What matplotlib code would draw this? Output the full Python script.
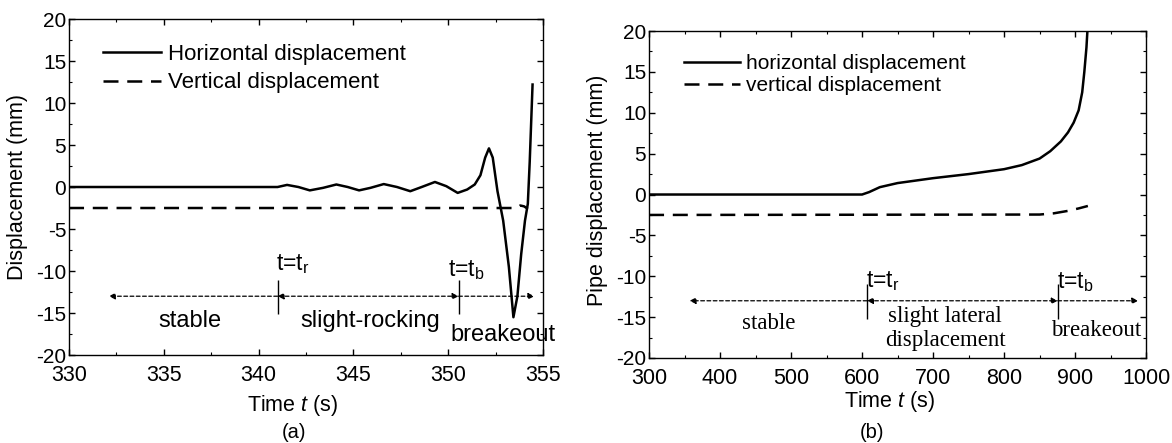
import numpy as np
import matplotlib
matplotlib.use("Agg")
import matplotlib.pyplot as plt
from matplotlib.ticker import MultipleLocator

plt.rcParams['font.family'] = ['Liberation Sans', 'DejaVu Sans']
plt.rcParams['mathtext.fontset'] = 'custom'
plt.rcParams['mathtext.rm'] = 'Liberation Sans'
plt.rcParams['mathtext.it'] = 'Liberation Sans:italic'
plt.rcParams['mathtext.default'] = 'regular'
plt.rcParams['axes.unicode_minus'] = False

# panel (a): slight-rocking test
ta_h = [330, 341.0, 341.5, 342.1, 342.7, 343.4, 344.1, 344.7, 345.3, 345.9, 346.6,
        347.3, 348.0, 348.6, 349.3, 349.9, 350.5, 351.0, 351.4, 351.7, 351.95,
        352.15, 352.35, 352.6, 352.9, 353.2, 353.44, 353.65, 353.85, 354.05,
        354.2, 354.3, 354.45]
ha = [0, 0, 0.25, 0.0, -0.4, -0.1, 0.3, 0.0, -0.4, -0.1, 0.35, 0.0, -0.5, 0.0,
      0.6, 0.1, -0.7, -0.3, 0.3, 1.4, 3.5, 4.6, 3.5, -0.5, -4.0, -9.5, -15.5,
      -13.0, -8.0, -4.0, -2.0, 3.0, 12.2]
ta_v = [330, 353.6, 353.8, 354.0, 354.2]
va = [-2.5, -2.5, -2.2, -2.3, -2.6]
ta_marks = [332.1, 341.0, 350.55, 354.55]   # arrow ends and t_r, t_b

# panel (b): slight lateral displacement test
tb_h = [300, 600, 610, 625, 650, 700, 750, 800, 825, 850, 865, 880, 890, 898,
        905, 910, 913, 916, 918]
hb = [0, 0, 0.3, 0.9, 1.4, 2.0, 2.5, 3.1, 3.6, 4.4, 5.3, 6.5, 7.6, 8.8, 10.3,
      12.5, 15, 18, 21]
tb_v = [300, 850, 870, 890, 905, 918]
vb = [-2.5, -2.45, -2.3, -2.0, -1.7, -1.4]
tb_marks = [357, 606.9, 875.6, 989]

fig = plt.figure(figsize=(11.72, 4.43), dpi=100)
axa = fig.add_axes([0.0589, 0.1986, 0.4044, 0.7585])
axb = fig.add_axes([0.5538, 0.1919, 0.4241, 0.738])


def style(ax, xlim, xmaj, xmin):
    ax.set_xlim(*xlim)
    ax.set_ylim(-20, 20)
    ax.xaxis.set_major_locator(MultipleLocator(xmaj))
    ax.xaxis.set_minor_locator(MultipleLocator(xmin))
    ax.yaxis.set_major_locator(MultipleLocator(5))
    ax.yaxis.set_minor_locator(MultipleLocator(2.5))
    ax.tick_params(which='both', direction='in', top=True, right=True)
    ax.tick_params(axis='y', pad=2, labelsize=15)
    ax.tick_params(axis='x', pad=7.5, labelsize=15.5)
    ax.tick_params(which='major', length=4, width=1)
    ax.tick_params(which='minor', length=2, width=0.8)
    for s in ax.spines.values():
        s.set_linewidth(1)


def arrows(ax, m, y):
    kw = dict(color='k', lw=0.9, linestyle=(0, (3, 2)), mutation_scale=9,
              shrinkA=0, shrinkB=0)
    ax.annotate('', xy=(m[0], y), xytext=(m[1], y), arrowprops=dict(arrowstyle='-|>', **kw))
    ax.annotate('', xy=(m[2], y), xytext=(m[1], y), arrowprops=dict(arrowstyle='<|-|>', **kw))
    ax.annotate('', xy=(m[3], y), xytext=(m[2], y), arrowprops=dict(arrowstyle='-|>', **kw))


# ---- (a)
style(axa, (330, 355), 5, 2.5)
axa.plot(ta_h, ha, 'k-', lw=1.8, label='Horizontal displacement')
axa.plot(ta_v, va, 'k--', lw=1.8, dashes=(6, 3.5), label='Vertical displacement')
axa.legend(loc='upper left', bbox_to_anchor=(0.072, 0.925), frameon=False,
           fontsize=16, handlelength=2.6, handletextpad=0.3, labelspacing=0.32,
           borderaxespad=0, borderpad=0)
arrows(axa, ta_marks, -13)
axa.vlines(ta_marks[1:3], -15.1, -11.1, color='k', lw=1)
axa.text(340.9, -9.9, 't=t$_r$', fontsize=16.5, ha='left', va='baseline')
axa.text(350.0, -10.6, 't=t$_b$', fontsize=16.5, ha='left', va='baseline')
axa.text(336.4, -16.7, 'stable', fontsize=17, ha='center', va='baseline')
axa.text(345.9, -16.7, 'slight-rocking', fontsize=17, ha='center', va='baseline')
axa.text(352.9, -18.3, 'breakeout', fontsize=17, ha='center', va='baseline')

# ---- (b)
style(axb, (300, 1000), 100, 50)
axb.plot(tb_h, hb, 'k-', lw=1.8, label='horizontal displacement')
axb.plot(tb_v, vb, 'k--', lw=1.8, dashes=(6, 3.5), label='vertical displacement')
axb.legend(loc='upper left', bbox_to_anchor=(0.07, 0.93), frameon=False,
           fontsize=15, handlelength=2.7, handletextpad=0.3, labelspacing=0.15,
           borderaxespad=0, borderpad=0)
arrows(axb, tb_marks, -13)
axb.vlines(tb_marks[1:3], -15.2, -11.0, color='k', lw=1)
axb.text(605, -11.3, 't=t$_r$', fontsize=16.5, ha='left', va='baseline')
axb.text(874, -11.5, 't=t$_b$', fontsize=16.5, ha='left', va='baseline')
serif = ['Liberation Serif', 'DejaVu Serif']
axb.text(468, -16.5, 'stable', fontsize=16.5, family=serif, ha='center', va='baseline')
axb.text(717, -15.6, 'slight lateral', fontsize=16.5, family=serif, ha='center', va='baseline')
axb.text(717, -18.5, 'displacement', fontsize=16.5, family=serif, ha='center', va='baseline')
axb.text(929, -17.3, 'breakeout', fontsize=16.5, family=serif, ha='center', va='baseline')

# axis labels and panel tags
fig.text(18 / 1172, 1 - 187 / 443, 'Displacement (mm)', rotation=90, fontsize=15.5,
         ha='center', va='center')
fig.text(597 / 1172, 1 - 190 / 443, 'Pipe displacement (mm)', rotation=90, fontsize=15.5,
         ha='center', va='center')
fig.text(293 / 1172, 1 - 405 / 443, 'Time $\\mathit{t}$ (s)', fontsize=15.5, ha='center', va='center')
fig.text(890 / 1172, 1 - 402 / 443, 'Time $\\mathit{t}$ (s)', fontsize=15.5, ha='center', va='center')
fig.text(294 / 1172, 1 - 432 / 443, '(a)', fontsize=14.5, ha='center', va='center')
fig.text(872 / 1172, 1 - 432 / 443, '(b)', fontsize=14.5, ha='center', va='center')

fig.savefig('out.png', dpi=100)
